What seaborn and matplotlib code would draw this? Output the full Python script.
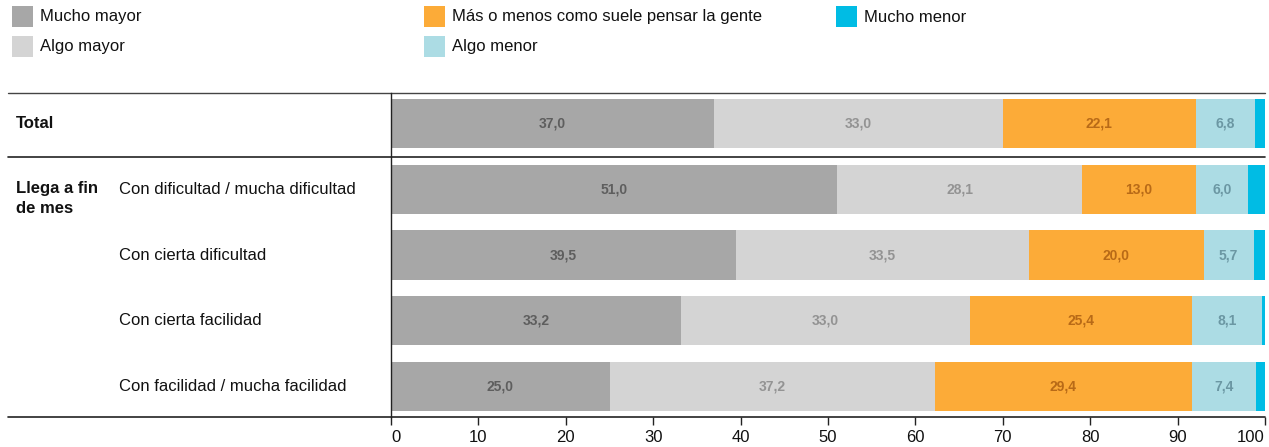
import numpy as np
import pandas as pd
import matplotlib
matplotlib.use("Agg")
import matplotlib.pyplot as plt
from matplotlib.patches import Rectangle
import seaborn as sns

# --- data ---
rows = ["Total",
        "Con dificultad / mucha dificultad",
        "Con cierta dificultad",
        "Con cierta facilidad",
        "Con facilidad / mucha facilidad"]
series = ["Mucho mayor", "Algo mayor", "Más o menos como suele pensar la gente",
          "Algo menor", "Mucho menor"]
mucho_mayor = [37.0, 51.0, 39.5, 33.2, 25.0]
algo_mayor = [33.0, 28.1, 33.5, 33.0, 37.2]
mas_o_menos = [22.1, 13.0, 20.0, 25.4, 29.4]
algo_menor = [6.8, 6.0, 5.7, 8.1, 7.4]
mucho_menor = [1.1, 1.9, 1.3, 0.3, 1.0]
group_label = "Llega a fin\nde mes"
xticks = list(range(0, 101, 10))

colors = ["#a7a7a7", "#d4d4d4", "#fcab38", "#acdce4", "#00bce4"]
label_colors = ["#5e5e5e", "#939393", "#b86a17", "#6b97a3", None]

sns.set_theme(style="white")
plt.rcParams["font.family"] = ["Liberation Sans", "DejaVu Sans"]

values = np.array([mucho_mayor, algo_mayor, mas_o_menos, algo_menor, mucho_menor])
cum = values.cumsum(axis=0)

df = pd.DataFrame({"row": np.tile(rows, len(series)),
                   "serie": np.repeat(series, len(rows)),
                   "valor": values.ravel(),
                   "cum": cum.ravel()})

fig = plt.figure(figsize=(12.69, 4.47), dpi=100)
ax = fig.add_axes([391 / 1269, 1 - 417 / 447, 874 / 1269, 324 / 447])

# stacked bars: draw cumulative totals from the longest to the shortest
for s, c in reversed(list(zip(series, colors))):
    sns.barplot(data=df[df.serie == s], x="cum", y="row", order=rows,
                color=c, saturation=1, width=0.75, errorbar=None,
                orient="h", ax=ax, linewidth=0)

# value labels
for k, s in enumerate(series):
    if label_colors[k] is None:
        continue
    for i in range(len(rows)):
        start = cum[k, i] - values[k, i]
        ax.text(start + values[k, i] / 2, i, f"{values[k, i]:.1f}".replace(".", ","),
                ha="center", va="center", fontsize=10, fontweight="bold",
                color=label_colors[k])

ax.set_xlim(0, 100)
ax.set_ylim(4.47, -0.47)
ax.set_xticks(xticks)
ax.set_yticks([])
ax.set_xlabel("")
ax.set_ylabel("")
ax.tick_params(axis="x", length=6, width=1, direction="out", color="#222222",
               labelsize=12, pad=3, labelcolor="#111111", bottom=True)
labels = ax.get_xticklabels()
labels[0].set_horizontalalignment("left")
labels[-1].set_horizontalalignment("right")
for side in ["top", "right", "bottom"]:
    ax.spines[side].set_visible(False)
ax.spines["left"].set_color("#222222")
ax.spines["left"].set_linewidth(1)

# horizontal rules across the table
trans = ax.get_yaxis_transform()
x_left = (8 - 391) / 874
ax.plot([x_left, 1], [-0.47, -0.47], transform=trans, color="#444444", lw=1, clip_on=False)
ax.plot([x_left, 1], [0.5, 0.5], transform=trans, color="#222222", lw=1.2, clip_on=False)
ax.plot([x_left, 1], [4.47, 4.47], transform=trans, color="#222222", lw=1.2, clip_on=False)

# row labels
ax.text((16 - 391) / 874, 0, "Total", transform=trans, ha="left", va="center",
        fontsize=12, fontweight="bold", color="#111111")
ax.text((16 - 391) / 874, 0.87, group_label, transform=trans, ha="left", va="top",
        fontsize=12, fontweight="bold", color="#111111", linespacing=1.45)
for i in range(1, len(rows)):
    ax.text((119 - 391) / 874, i, rows[i], transform=trans, ha="left", va="center",
            fontsize=12, color="#111111")

# legend (three columns)
col_x = [12, 424, 836]
row_y = [17, 47]
for k, (s, c) in enumerate(zip(series, colors)):
    x0 = col_x[k // 2]
    y0 = row_y[k % 2]
    fig.add_artist(Rectangle((x0 / 1269, 1 - (y0 + 10) / 447), 21 / 1269, 21 / 447,
                             transform=fig.transFigure, color=c, lw=0))
    fig.text((x0 + 28) / 1269, 1 - y0 / 447, s, ha="left", va="center",
             fontsize=12, color="#111111")

fig.savefig("out.png", dpi=100)
